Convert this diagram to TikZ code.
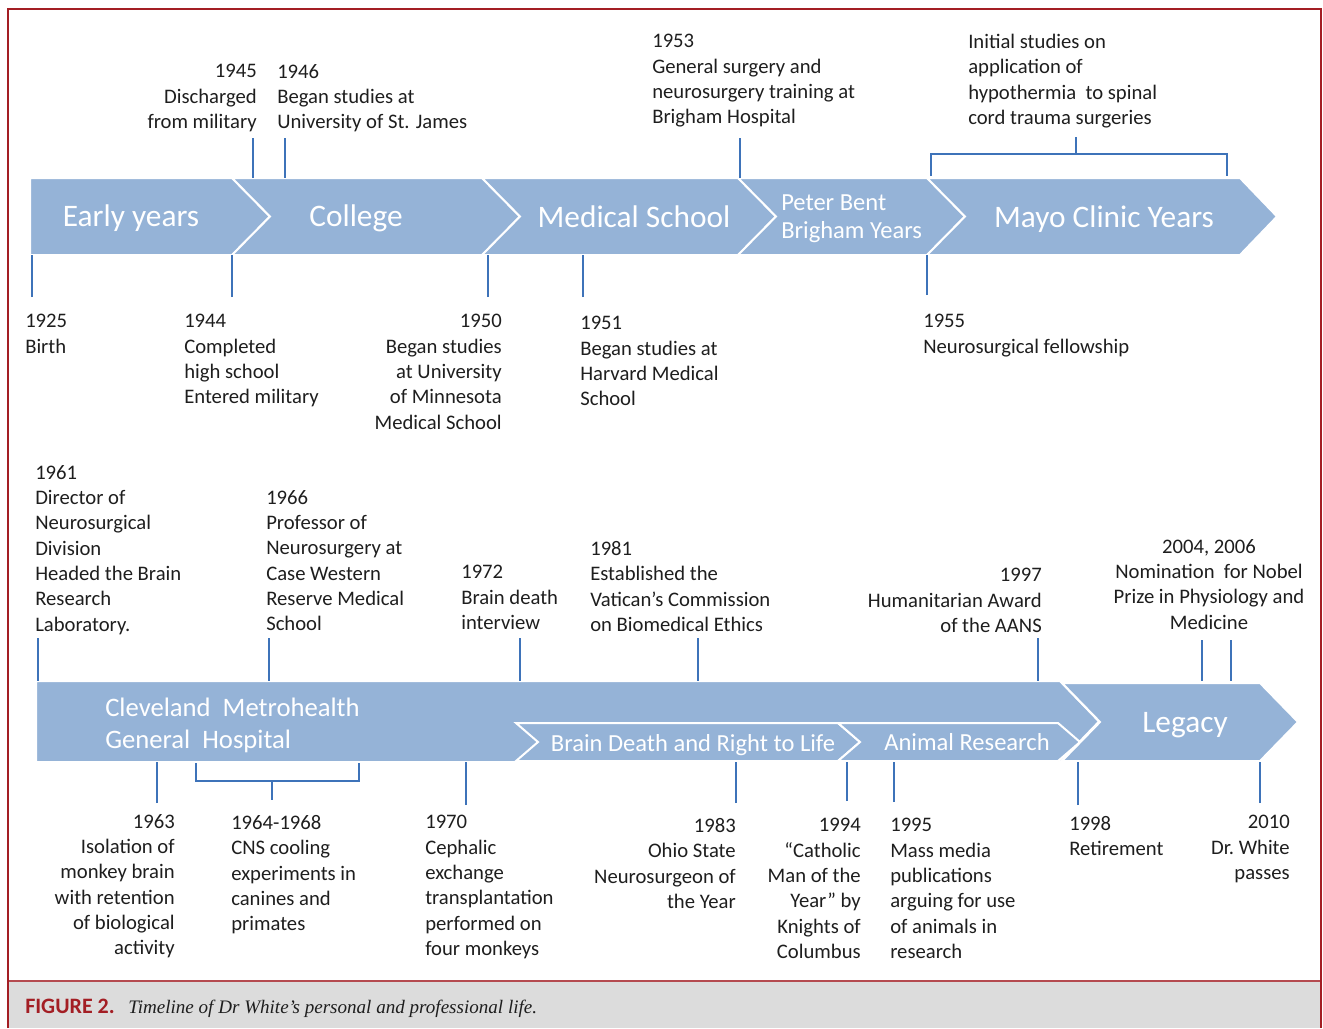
\documentclass[tikz,border=0pt]{standalone}
\usepackage{fontspec}
\setmainfont{Carlito}
\newfontfamily\capfont{Liberation Serif}
\definecolor{bandblue}{RGB}{149,179,215}
\definecolor{tickblue}{RGB}{62,115,185}
\definecolor{framered}{RGB}{163,30,36}
\definecolor{capgray}{RGB}{220,220,220}
\definecolor{txt}{RGB}{30,30,30}

\begin{document}
\begin{tikzpicture}[x=0.75pt,y=-0.75pt,
  band/.style={fill=bandblue,draw=white,line width=1.5pt,line join=miter},
  tick/.style={draw=tickblue,line width=2.2pt},
  lbl/.style={inner sep=0pt,text=txt,font=\fontsize{15.5}{19}\selectfont},
  title/.style={inner sep=0pt,anchor=base,text=white,font=\fontsize{23.5}{28}\selectfont},
  sub/.style={inner sep=0pt,anchor=base,text=white,font=\fontsize{18.4}{20}\selectfont}]
  \useasboundingbox (0,0) rectangle (1323,1028);

  % Marco y pie
  \fill[capgray] (8,981) rectangle (1321,1028);
  \draw[framered!80,line width=1.5pt] (8,981) -- (1321,981);
  \draw[framered,line width=2.2pt] (8,1028) -- (8,9) -- (1321,9) -- (1321,1028);
  \node[anchor=base west,inner sep=0pt,text=framered,font=\fontsize{16.5}{20}\selectfont\bfseries] (fig) at (25,1013) {FIGURE 2.};
  \node[anchor=base west,inner sep=0pt,text=txt,font=\capfont\itshape\fontsize{14.3}{18}\selectfont] (cap) at (128,1013) {Timeline of Dr White’s personal and professional life.};

  % Banda superior
  \path[band] (30,178) -- (232,178) -- (270,216.5) -- (232,255) -- (30,255) -- cycle;
  \foreach \a/\b in {232/482, 482/738, 738/927}
    \path[band] (\a,178) -- (\b,178) -- ({\b+38},216.5) -- (\b,255) -- (\a,255) -- ({\a+38},216.5) -- cycle;
  \path[band] (927,178) -- (1240,178) -- (1277,216.5) -- (1240,255) -- (927,255) -- (965,216.5) -- cycle;

  \node[title] (early) at (131,226) {Early years};
  \node[title] (college) at (356,226) {College};
  \node[title] (medical) at (634,227) {Medical School};
  \node[sub,anchor=base west] (peter) at (781,210) {Peter Bent};
  \node[sub,anchor=base west] (brigham) at (781,238) {Brigham Years};
  \node[title] (mayo) at (1104,227) {Mayo Clinic Years};

  % Banda inferior
  \path[band] (36,681) -- (1060,681) -- (1099,721.5) -- (1060,762) -- (36,762) -- cycle;
  \path[band] (516,723) -- (838,723) -- (860,742) -- (838,761) -- (516,761) -- (538,742) -- cycle;
  \path[band] (838,723) -- (1058,723) -- (1080,742) -- (1058,761) -- (838,761) -- (860,742) -- cycle;
  \path[band] (1062,683) -- (1260,683) -- (1298,722) -- (1260,761) -- (1062,761) -- (1100,722) -- cycle;

  \node[sub,anchor=base west,font=\fontsize{20}{24}\selectfont] (cleveland) at (105,716) {Cleveland\ \ Metrohealth};
  \node[sub,anchor=base west,font=\fontsize{20}{24}\selectfont] (general) at (105,748) {General\ \ Hospital};
  \node[sub] (brain) at (693,751) {Brain Death and Right to Life};
  \node[sub] (animal) at (967,750) {Animal Research};
  \node[title] (legacy) at (1185,732) {Legacy};

  % Bordes de las bandas
  \coordinate (topn) at (0,178);
  \coordinate (tops) at (0,255);
  \coordinate (botn) at (0,681);
  \coordinate (bots) at (0,762);

  % Extremos de las marcas
  \coordinate (a1945) at (253,138);
  \coordinate (a1946) at (285,138);
  \coordinate (a1953) at (740,138);
  \coordinate (b1925) at (32,297);
  \coordinate (b1944) at (232,297);
  \coordinate (b1950) at (488,297);
  \coordinate (b1951) at (583,297);
  \coordinate (b1955) at (927,295);
  \coordinate (c1961) at (38,638);
  \coordinate (c1966) at (269,638);
  \coordinate (c1972) at (520,638);
  \coordinate (c1981) at (698,638);
  \coordinate (c1997) at (1038,638);
  \coordinate (c2004) at (1202,640);
  \coordinate (c2006) at (1231,640);
  \coordinate (d1963) at (157,803);
  \coordinate (d1970) at (466,805);
  \coordinate (d1983) at (736,803);
  \coordinate (d1994) at (847,801);
  \coordinate (d1995) at (894,802);
  \coordinate (d1998) at (1078,805);
  \coordinate (d2010) at (1260,803);

  % Marcas
  \foreach \t in {a1945,a1946,a1953}
    \draw[tick] (\t) -- (\t |- topn);
  \foreach \t in {b1925,b1944,b1950,b1951,b1955}
    \draw[tick] (\t) -- (\t |- tops);
  \foreach \t in {c1961,c1966,c1972,c1981,c1997,c2004,c2006}
    \draw[tick] (\t) -- (\t |- botn);
  \foreach \t in {d1963,d1970,d1983,d1994,d1995,d1998,d2010}
    \draw[tick] (\t) -- (\t |- bots);

  % Corchetes
  \coordinate (amayo) at (1076,137);
  \coordinate (bmayo) at (1076,154);
  \draw[tick] (931,176) -- (931,154) -- (1227,154) -- (1227,176);
  \draw[tick] (bmayo) -- (amayo);
  \coordinate (d1964) at (272,800);
  \coordinate (e1964) at (272,781);
  \draw[tick] (196,763) -- (196,781) -- (359,781) -- (359,763);
  \draw[tick] (e1964) -- (d1964);

  % Textos arriba
  \node[lbl,anchor=north east,align=right] (l1945) at (257,64) {1945\\Discharged\\from military};
  \node[lbl,anchor=north west,align=left] (l1946) at (277,64) {1946\\Began studies at\\University of St. James};
  \node[lbl,anchor=north west,align=left] (l1953) at (652,34) {1953\\General surgery and\\neurosurgery training at\\Brigham Hospital};
  \node[lbl,anchor=north west,align=left] (lmayo) at (968,34) {Initial studies on\\application of\\hypothermia\ \ to spinal\\cord trauma surgeries};

  \node[lbl,anchor=north west,align=left] (l1925) at (25,314) {1925\\Birth};
  \node[lbl,anchor=north west,align=left] (l1944) at (184,314) {1944\\Completed\\high school\\Entered military};
  \node[lbl,anchor=north east,align=right] (l1950) at (502,314) {1950\\Began studies\\at University\\of Minnesota\\Medical School};
  \node[lbl,anchor=north west,align=left] (l1951) at (580,316) {1951\\Began studies at\\Harvard Medical\\School};
  \node[lbl,anchor=north west,align=left] (l1955) at (923,314) {1955\\Neurosurgical fellowship};

  % Textos abajo
  \node[lbl,anchor=north west,align=left] (l1961) at (35,465) {1961\\Director of\\Neurosurgical\\Division\\Headed the Brain\\Research\\Laboratory.};
  \node[lbl,anchor=north west,align=left] (l1966) at (266,490) {1966\\Professor of\\Neurosurgery at\\Case Western\\Reserve Medical\\School};
  \node[lbl,anchor=north west,align=left] (l1972) at (461,565) {1972\\Brain death\\interview};
  \node[lbl,anchor=north west,align=left] (l1981) at (590,541) {1981\\Established the\\Vatican’s Commission\\on Biomedical Ethics};
  \node[lbl,anchor=north east,align=right] (l1997) at (1042,568) {1997\\Humanitarian Award\\of the AANS};
  \node[lbl,anchor=north,align=center] (l2004) at (1209,539) {2004, 2006\\Nomination\ \ for Nobel\\Prize in Physiology and\\Medicine};

  \node[lbl,anchor=north east,align=right] (l1963) at (175,814) {1963\\Isolation of\\monkey brain\\with retention\\of biological\\activity};
  \node[lbl,anchor=north west,align=left] (l1964) at (231,815) {1964-1968\\CNS cooling\\experiments in\\canines and\\primates};
  \node[lbl,anchor=north west,align=left] (l1970) at (425,815) {1970\\Cephalic\\exchange\\transplantation\\performed on\\four monkeys};
  \node[lbl,anchor=north east,align=right] (l1983) at (736,818) {1983\\Ohio State\\Neurosurgeon of\\the Year};
  \node[lbl,anchor=north east,align=right] (l1994) at (861,818) {1994\\“Catholic\\Man of the\\Year” by\\Knights of\\Columbus};
  \node[lbl,anchor=north west,align=left] (l1995) at (890,818) {1995\\Mass media\\publications\\arguing for use\\of animals in\\research};
  \node[lbl,anchor=north west,align=left] (l1998) at (1069,816) {1998\\Retirement};
  \node[lbl,anchor=north east,align=right] (l2010) at (1290,815) {2010\\Dr.\ White\\passes};
\end{tikzpicture}
\end{document}
